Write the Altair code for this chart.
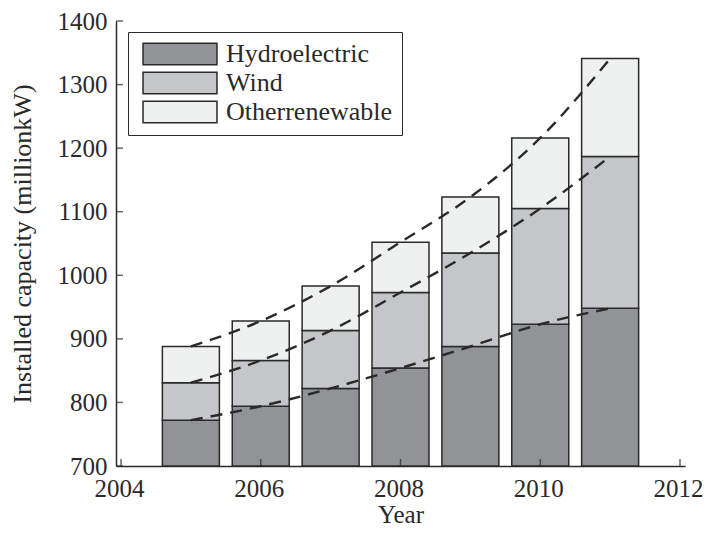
import altair as alt
import pandas as pd

years = [2005, 2006, 2007, 2008, 2009, 2010, 2011]
hydro = [772, 794, 822, 854, 888, 923, 948]
wind = [59, 72, 91, 119, 147, 182, 239]
other = [57, 62, 70, 79, 88, 111, 154]
series = ["Hydroelectric", "Wind", "Otherrenewable"]
colors = ["#929396", "#c5c6c8", "#eff0f0"]
y_ticks = [700, 800, 900, 1000, 1100, 1200, 1300, 1400]
x_ticks = [2004, 2006, 2008, 2010, 2012]

FONT = "Liberation Serif"
INK = "#2a2a2a"
PLOT_H = 445

rows = []
lines = []
for i, yr in enumerate(years):
    base = 0
    for k, (name, vals) in enumerate(zip(series, [hydro, wind, other])):
        rows.append(dict(year=yr, series=name, base=base, top=base + vals[i]))
        base += vals[i]
        lines.append(dict(year=yr, level=name, top=base))
bars_df = pd.DataFrame(rows)
lines_df = pd.DataFrame(lines)
yt_df = pd.DataFrame({"top": y_ticks})
xt_df = pd.DataFrame({"year": x_ticks})

xscale = alt.Scale(domain=[2004, 2012], nice=False, zero=False)
yscale = alt.Scale(domain=[700, 1400], nice=False, zero=False, clamp=True)

xaxis = alt.Axis(values=x_ticks, format="d", title="Year", labelPadding=10, labelFlush=False,
                 labelOffset=-2, titleY=56, titleBaseline="alphabetic")
yaxis = alt.Axis(values=y_ticks, format="d", title="Installed capacity (millionkW)",
                 labelPadding=9, labelFlush=False, titleX=-86, titleBaseline="alphabetic",
                 titleFontSize=26)

bars = alt.Chart(bars_df).mark_bar(width=57, stroke=INK, strokeWidth=1.5, opacity=1).encode(
    x=alt.X("year:Q", scale=xscale, axis=xaxis),
    y=alt.Y("top:Q", scale=yscale, axis=yaxis),
    y2="base:Q",
    color=alt.Color("series:N", scale=alt.Scale(domain=series, range=colors),
                    legend=alt.Legend(title=None, orient="none", legendX=12, legendY=11,
                                      symbolType="M-0.58,-0.9H5.58V0.9H-0.58Z", symbolSize=576,
                                      symbolStrokeColor=INK, symbolStrokeWidth=1.5,
                                      symbolOpacity=1, labelOffset=63, rowPadding=1,
                                      padding=9, fillColor="white", strokeColor=INK,
                                      labelFont=FONT, labelFontSize=26, labelColor=INK,
                                      labelLimit=400)),
)

trend = alt.Chart(lines_df).mark_line(color=INK, strokeWidth=2.4, strokeDash=[12, 8],
                                       interpolate="monotone").encode(
    x=alt.X("year:Q", scale=xscale, axis=xaxis),
    y=alt.Y("top:Q", scale=yscale, axis=yaxis),
    detail="level:N",
)

ytick = alt.Chart(yt_df).mark_tick(orient="horizontal", size=7, thickness=1.5, color=INK).encode(
    y=alt.Y("top:Q", scale=yscale, axis=yaxis),
    x=alt.value(3.5),
)
xtick = alt.Chart(xt_df).mark_tick(orient="vertical", size=7, thickness=1.5, color=INK).encode(
    x=alt.X("year:Q", scale=xscale, axis=xaxis),
    y=alt.value(PLOT_H - 3.5),
)

chart = alt.layer(bars, trend, ytick, xtick).properties(
    width=569, height=PLOT_H,
    autosize=alt.AutoSizeParams(type="none"),
    padding={"left": 108, "top": 13, "right": 20, "bottom": 59},
).configure_view(stroke=None).configure_axis(
    grid=False, domainColor=INK, domainWidth=1.5, tickSize=0,
    labelFont=FONT, labelFontSize=25, labelColor=INK,
    titleFont=FONT, titleFontSize=25, titleFontWeight="normal", titleColor=INK,
)

chart.save("out.html", embed_options={"renderer": "svg", "actions": False})
